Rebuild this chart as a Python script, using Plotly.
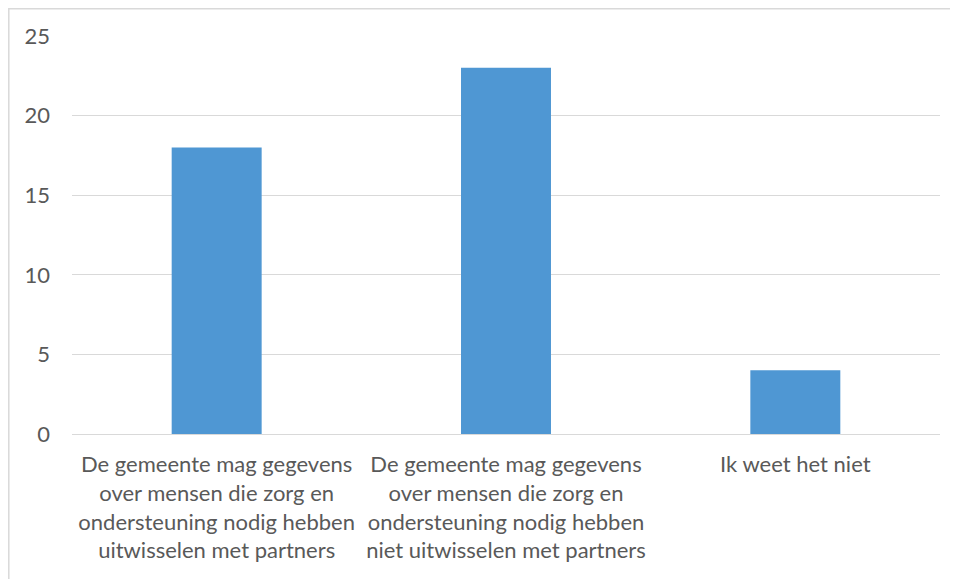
import plotly.graph_objects as go

categories = [
    "De gemeente mag gegevens<br>over mensen die zorg en<br>ondersteuning nodig hebben<br>uitwisselen met partners",
    "De gemeente mag gegevens<br>over mensen die zorg en<br>ondersteuning nodig hebben<br>niet uitwisselen met partners",
    "Ik weet het niet",
]
values = [18, 23, 4]
y_ticks = [0, 5, 10, 15, 20, 25]

# page has an 8px body margin, so figure coords = screen coords - 8
W, H = 958, 579
ml, mr, mt, mb = 64, 26, 28, 153
pw = W - ml - mr
ph = H - mt - mb

fig = go.Figure(go.Bar(x=categories, y=values, marker=dict(color="#4f97d3", line=dict(width=0))))

fig.update_layout(
    width=W, height=H,
    margin=dict(l=ml, r=mr, t=mt, b=mb, pad=0),
    paper_bgcolor="white", plot_bgcolor="white",
    bargap=0.689,
    showlegend=False,
    font=dict(family="Lato, Open Sans, sans-serif", size=22, color="#595959"),
    xaxis=dict(showgrid=False, showline=True, linecolor="#d9d9d9", linewidth=1,
               ticks="", tickangle=0, ticklabelstandoff=11,
               tickfont=dict(size=22, color="#595959")),
    yaxis=dict(range=[0, 25], tickvals=y_ticks, showgrid=True, gridcolor="#d9d9d9",
               gridwidth=1, zeroline=False, showline=False, ticks="",
               ticklabelstandoff=21, tickfont=dict(size=22, color="#595959")),
    shapes=[dict(type="rect", xref="paper", yref="paper",
                 x0=(0.8 - ml) / pw, x1=(948.5 - ml) / pw,
                 y0=-(H + 10 - mt - ph) / ph, y1=1 + (mt - 0.8) / ph,
                 line=dict(color="#d9d9d9", width=1.5), fillcolor="rgba(0,0,0,0)",
                 layer="below")],
)

fig.write_html("out.html")
